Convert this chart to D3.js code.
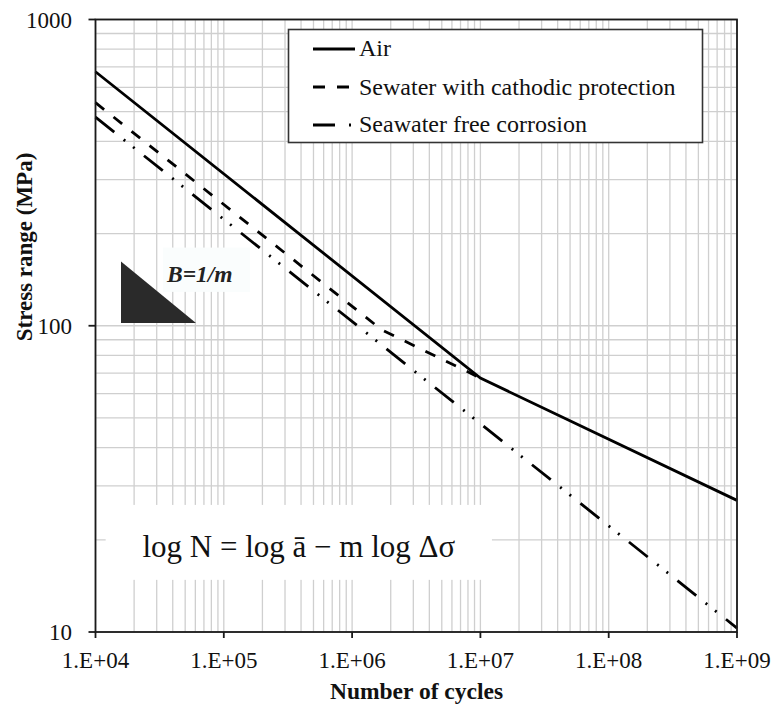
<!DOCTYPE html>
<html>
<head>
<meta charset="utf-8">
<script src="https://cdn.jsdelivr.net/npm/d3@7/dist/d3.min.js"></script>
<style>
  html, body { margin: 0; padding: 0; background: #fff; }
  svg { display: block; }
</style>
</head>
<body>
<svg id="chart" width="774" height="706" font-family="'Liberation Serif', 'DejaVu Serif', 'Times New Roman', Times, serif"></svg>
<script>
// ---- Data ----
const seriesNames = ["Air", "Sewater with cathodic protection", "Seawater free corrosion"];
const airN      = [1e4, 1e7, 1e9];
const airS      = [675, 67.5, 26.9];
const cpN       = [1e4, 1.7e6, 1e7];
const cpS       = [535, 97, 67.5];
const freeN     = [1e4, 1e9];
const freeS     = [480, 10.3];
const xTickValues = [1e4, 1e5, 1e6, 1e7, 1e8, 1e9];
const xTickLabels = ["1.E+04", "1.E+05", "1.E+06", "1.E+07", "1.E+08", "1.E+09"];
const yTickValues = [10, 100, 1000];
const yTickLabels = ["10", "100", "1000"];
const xTitle = "Number of cycles";
const yTitle = "Stress range (MPa)";
const equationText = "log N = log ā − m log Δσ";
const slopeLabel = "B=1/m";
// annotation triangle in data coordinates
const triN = [1.58e4, 1.58e4, 6.07e4];
const triS = [162, 102, 102];

// ---- Layout ----
const svg = d3.select("#chart");
const L = 95.5, R = 737, T = 19.5, B = 632;
const x = d3.scaleLog().domain([1e4, 1e9]).range([L, R]);
const y = d3.scaleLog().domain([10, 1000]).range([B, T]);

// gridlines
const grid = svg.append("g");
grid.selectAll(".vg").data(x.ticks()).join("line")
  .attr("x1", d => x(d)).attr("x2", d => x(d)).attr("y1", T).attr("y2", B)
  .attr("stroke", "#cfcfcf").attr("stroke-width", 1.3);
grid.selectAll(".hg").data(y.ticks()).join("line")
  .attr("y1", d => y(d)).attr("y2", d => y(d)).attr("x1", L).attr("x2", R)
  .attr("stroke", "#cfcfcf").attr("stroke-width", 1.3);

// white boxes that hide the grid
const eqN = [1.2e4, 1.23e7], eqS = [26, 14.8];
svg.append("rect")
  .attr("x", x(eqN[0])).attr("y", y(eqS[0]))
  .attr("width", x(eqN[1]) - x(eqN[0])).attr("height", y(eqS[1]) - y(eqS[0]))
  .attr("fill", "#fff");
const bN = [3.36e4, 1.6e5], bS = [180, 129];
svg.append("rect")
  .attr("x", x(bN[0])).attr("y", y(bS[0]))
  .attr("width", x(bN[1]) - x(bN[0])).attr("height", y(bS[1]) - y(bS[0]))
  .attr("fill", "#fafdfd");

// lines
const line = d3.line().x(d => x(d[0])).y(d => y(d[1]));
const zip = (a, b) => a.map((v, i) => [v, b[i]]);

svg.append("path").datum(zip(freeN, freeS)).attr("d", line)
  .attr("fill", "none").attr("stroke", "#000").attr("stroke-width", 2.8)
  .attr("stroke-dasharray", "24,12,2,10,2,12");
svg.append("path").datum(zip(cpN, cpS)).attr("d", line)
  .attr("fill", "none").attr("stroke", "#000").attr("stroke-width", 2.8)
  .attr("stroke-dasharray", "11,12");
svg.append("path").datum(zip(airN, airS)).attr("d", line)
  .attr("fill", "none").attr("stroke", "#000").attr("stroke-width", 2.8);

// triangle
svg.append("path").datum(zip(triN, triS))
  .attr("d", d => line(d) + "Z").attr("fill", "#2a2a2a");

// slope label
svg.append("text").attr("x", 167).attr("y", 282)
  .attr("font-size", 23.5).attr("font-weight", "bold").attr("font-style", "italic")
  .attr("fill", "#222").text(slopeLabel);

// equation
svg.append("text").attr("x", (x(eqN[0]) + x(eqN[1])) / 2).attr("y", 557)
  .attr("text-anchor", "middle").attr("font-size", 31).attr("fill", "#111")
  .text(equationText);

// frame
svg.append("rect").attr("x", L).attr("y", T).attr("width", R - L).attr("height", B - T)
  .attr("fill", "none").attr("stroke", "#1a1a1a").attr("stroke-width", 1.8);

// x axis ticks
const xa = svg.append("g");
xa.selectAll("line").data(xTickValues).join("line")
  .attr("x1", d => x(d)).attr("x2", d => x(d)).attr("y1", B).attr("y2", B + 6)
  .attr("stroke", "#1a1a1a").attr("stroke-width", 1.8);
xa.selectAll("text").data(xTickValues).join("text")
  .attr("x", d => x(d)).attr("y", 668).attr("text-anchor", "middle")
  .attr("font-size", 23).attr("fill", "#111").text((d, i) => xTickLabels[i]);

// y axis ticks
const ya = svg.append("g");
ya.selectAll("line").data(yTickValues).join("line")
  .attr("x1", L - 7).attr("x2", L).attr("y1", d => y(d)).attr("y2", d => y(d))
  .attr("stroke", "#1a1a1a").attr("stroke-width", 1.8);
ya.selectAll("text").data(yTickValues).join("text")
  .attr("x", 72).attr("y", d => y(d) + 8).attr("text-anchor", "end")
  .attr("font-size", 23).attr("fill", "#111").text((d, i) => yTickLabels[i]);

// axis titles
svg.append("text").attr("x", 416.5).attr("y", 699).attr("text-anchor", "middle")
  .attr("font-size", 23.5).attr("font-weight", "bold").attr("fill", "#111").text(xTitle);
svg.append("text").attr("transform", "translate(32,247) rotate(-90)")
  .attr("text-anchor", "middle").attr("font-size", 23).attr("font-weight", "bold")
  .attr("fill", "#111").text(yTitle);

// legend
const lg = svg.append("g");
lg.append("rect").attr("x", 288.5).attr("y", 29.5).attr("width", 414).attr("height", 113)
  .attr("fill", "#fff").attr("stroke", "#333").attr("stroke-width", 1.6);
const legendRows = [
  { name: seriesNames[0], dash: null, ly: 49, ty: 56 },
  { name: seriesNames[1], dash: "12,12", ly: 87, ty: 95 },
  { name: seriesNames[2], dash: "22,14,2,20", ly: 125, ty: 132 }
];
legendRows.forEach(r => {
  lg.append("line").attr("x1", 313).attr("x2", 355)
    .attr("y1", r.ly).attr("y2", r.ly)
    .attr("stroke", "#000").attr("stroke-width", 2.8)
    .attr("stroke-dasharray", r.dash);
  lg.append("text").attr("x", 359).attr("y", r.ty).attr("font-size", 24)
    .attr("fill", "#111").text(r.name);
});
</script>
</body>
</html>
